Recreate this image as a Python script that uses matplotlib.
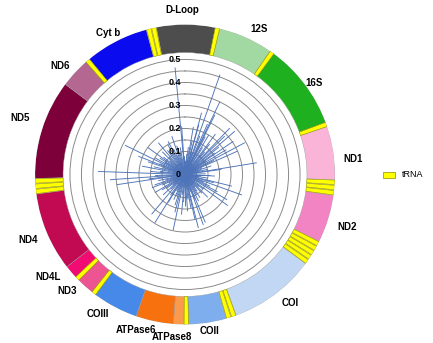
import numpy as np
import matplotlib
matplotlib.use("Agg")
import matplotlib.pyplot as plt
from matplotlib.patches import Rectangle
from matplotlib.transforms import offset_copy

plt.rcParams["font.family"] = ["Liberation Sans", "DejaVu Sans"]

# Gene blocks on the ring (degrees clockwise from the top)
genes = ["D-Loop", "12S", "16S", "ND1", "ND2", "COI", "COII", "ATPase8",
         "ATPase6", "COIII", "ND3", "ND4L", "ND4", "ND5", "ND6", "Cyt b"]
gene_start = [-11.0, 13.3, 36.3, 71.3, 98.0, 126.5, 164.0, 180.3,
              184.5, 199.0, 218.3, 226.8, 232.0, 268.5, 307.0, 320.3]
gene_end = [11.7, 34.7, 69.7, 92.0, 116.5, 160.0, 178.7, 184.5,
            199.0, 216.7, 225.2, 232.0, 262.5, 307.0, 318.7, 345.0]
gene_colors = ["#4d4d4d", "#a2d9a2", "#1fb01f", "#f9b4d8", "#f284c4", "#c2d7f3",
               "#7eaeee", "#f99a4c", "#f7720f", "#4689e8", "#ec5592", "#f20b72",
               "#c10a52", "#7e003b", "#b46891", "#0b0bf0"]

# tRNA stripes (centre angle, degrees)
trna_deg = [12.5, 35.5, 70.5, 93.0, 95.0, 97.0, 117.5, 119.5, 121.5, 123.5, 125.5,
            161.0, 163.0, 179.5, 217.5, 226.0, 263.5, 265.5, 267.5, 319.5, 346.0, 348.0]
trna_width = 1.7

# label placement around the ring (angle, radius)
label_deg = [-1, 27, 54.6, 84.7, 108, 140.7, 171, 184.6, 197.5, 212, 225.4, 233,
             247.4, 289, 311, 331.4]
label_r = [0.715, 0.709, 0.687, 0.733, 0.74, 0.72, 0.69, 0.709, 0.709, 0.713,
           0.722, 0.743, 0.74, 0.76, 0.722, 0.70]

# Spike values (angle in degrees, value)
spike_deg = [354.7, 19.3, 25.6, 26.6, 15.0, 15.5, 10.0, 44.0, 49.0, 55.5, 62.0, 66.0,
             80.7, 82.0, 93.0, 28.0, 46.0, 59.0, 54.0, 24.0, 109.8, 121.0, 126.0,
             157.0, 158.0, 135.0, 160.0, 118.0, 104.0, 166.0, 167.5, 192.0, 212.0,
             220.0, 195.0, 239.0, 248.0, 261.5, 266.0, 185.0, 180.0, 211.0, 272.0,
             296.0, 291.4, 306.0, 320.0, 341.0, 333.0, 356.0, 281.0,
             2, 5, 7, 12, 18, 21, 31, 33, 37, 39, 41, 51, 57, 64, 69, 72, 75, 77,
             86, 88, 90, 96, 99, 101, 106, 112, 115, 129, 132, 138, 141, 144, 147,
             150, 153, 163, 170, 173, 176, 183, 188, 198, 201, 204, 207, 215, 224,
             227, 230, 233, 236, 243, 245, 251, 254, 257, 263, 268, 275, 277, 284,
             287, 289, 293, 299, 301, 303, 309, 312, 315, 317, 324, 327, 330, 336,
             338, 344, 347, 350, 358]
spike_val = [0.467, 0.46, 0.35, 0.29, 0.278, 0.225, 0.21, 0.28, 0.287, 0.255, 0.295, 0.25,
             0.316, 0.16, 0.13, 0.187, 0.24, 0.21, 0.16, 0.24, 0.263, 0.214, 0.23,
             0.227, 0.117, 0.14, 0.233, 0.16, 0.21, 0.24, 0.2, 0.247, 0.248,
             0.226, 0.17, 0.153, 0.155, 0.3, 0.327, 0.175, 0.138, 0.142, 0.378,
             0.29, 0.218, 0.2, 0.18, 0.176, 0.162, 0.21, 0.19,
             0.06, 0.09, 0.12, 0.15, 0.10, 0.18, 0.20, 0.14, 0.22, 0.17, 0.13, 0.19,
             0.11, 0.14, 0.08, 0.12, 0.07, 0.10, 0.05, 0.09, 0.11, 0.07, 0.10, 0.06,
             0.13, 0.09, 0.12, 0.10, 0.08, 0.11, 0.07, 0.09, 0.12, 0.10, 0.13, 0.08,
             0.15, 0.11, 0.16, 0.12, 0.09, 0.14, 0.10, 0.12, 0.08, 0.11, 0.09, 0.13,
             0.07, 0.10, 0.12, 0.08, 0.11, 0.14, 0.09, 0.12, 0.16, 0.13, 0.15, 0.11,
             0.14, 0.10, 0.17, 0.12, 0.15, 0.10, 0.13, 0.12, 0.09, 0.14, 0.10, 0.13,
             0.11, 0.15, 0.12, 0.09, 0.13, 0.10, 0.12, 0.08]

r_ticks = [0, 0.1, 0.2, 0.3, 0.4, 0.5]
ring_in, ring_out = 0.530, 0.652

fig = plt.figure(figsize=(4.33, 3.43), dpi=100)
ax = fig.add_axes([35 / 433, 18.5 / 343, 300 / 433, 300 / 343], projection="polar")
ax.set_theta_zero_location("N")
ax.set_theta_direction(-1)
ax.set_ylim(0, ring_out)
ax.set_xticks([])
ax.set_yticks(np.arange(0.05, 0.51, 0.05))
ax.set_yticklabels([])
ax.yaxis.grid(True, color="#8a8a8a", linewidth=0.7)
ax.spines["polar"].set_visible(False)

# gene ring
starts = np.array(gene_start)
ends = np.array(gene_end)
ax.bar(np.deg2rad((starts + ends) / 2), ring_out - ring_in, width=np.deg2rad(ends - starts),
       bottom=ring_in, color=gene_colors, edgecolor="#9a9a9a", linewidth=0.3, align="center")
ax.bar(np.deg2rad(trna_deg), ring_out - ring_in, width=np.deg2rad(trna_width),
       bottom=ring_in, color="#ffff00", edgecolor="#8c8c00", linewidth=0.4, align="center")

# spikes
ax.vlines(np.deg2rad(spike_deg), 0, spike_val, color="#4d73b8", linewidth=0.65)

# radial tick labels
tick_tr = offset_copy(ax.transData, fig=fig, x=-4, y=0, units="dots")
for r in r_ticks:
    ax.text(0, r, f"{r:g}", transform=tick_tr, ha="right", va="center",
            fontsize=6.5, fontweight="bold", zorder=5)

for name, a, r in zip(genes, label_deg, label_r):
    ax.text(np.deg2rad(a), r, name, ha="center", va="center", fontsize=7,
            fontweight="bold", clip_on=False)

# legend
fig.add_artist(Rectangle((383 / 433, (343 - 177.5) / 343), 12 / 433, 6 / 343,
                         transform=fig.transFigure, facecolor="#ffff00",
                         edgecolor="#8c8c00", linewidth=0.5))
fig.text(402 / 433, (343 - 174.5) / 343, "tRNA", fontsize=6.5, va="center", ha="left")

fig.savefig("out.png", dpi=100)
